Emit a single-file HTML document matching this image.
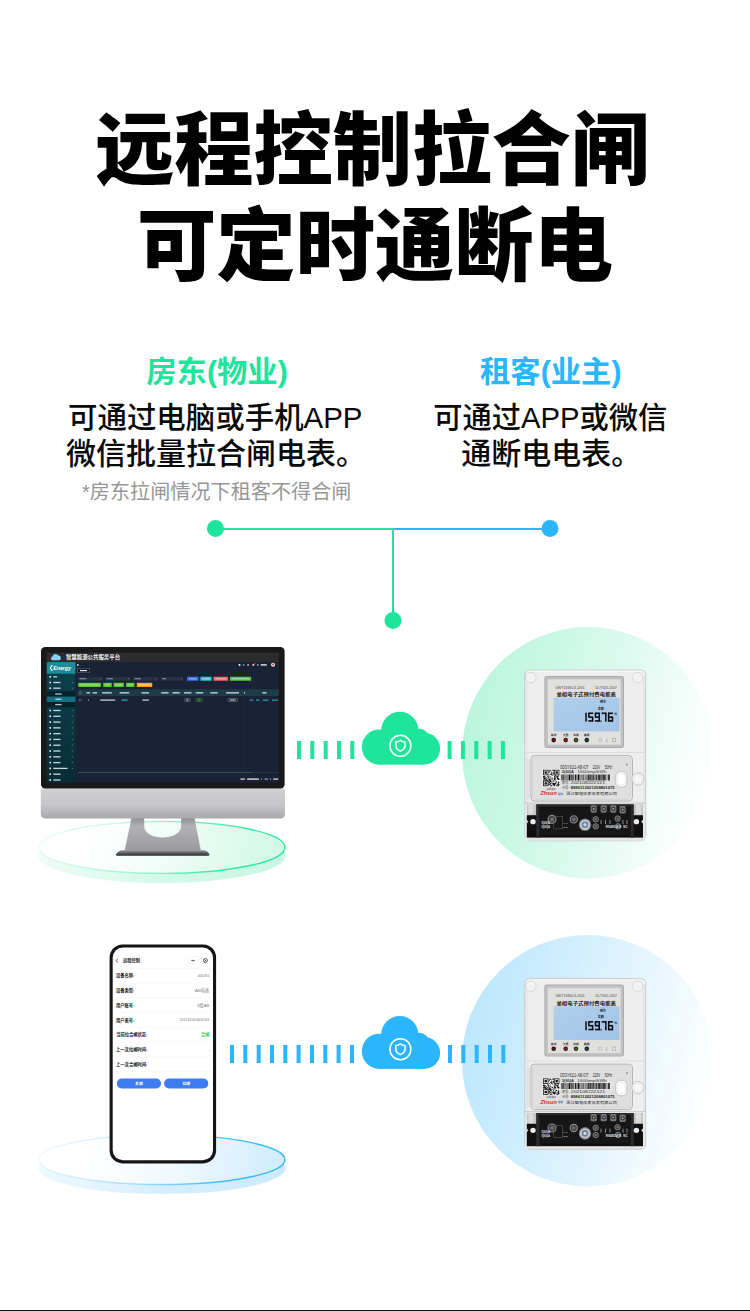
<!DOCTYPE html>
<html lang="zh-CN">
<head>
<meta charset="utf-8">
<title>远程控制拉合闸 可定时通断电</title>
<style>
html,body{margin:0;padding:0;background:#fff;}
body{width:750px;height:1311px;position:relative;overflow:hidden;font-family:"Liberation Sans",sans-serif;}
#art{position:absolute;left:0;top:0;width:750px;height:1311px;display:block;}
#art text{font-family:"Liberation Sans","Noto Sans CJK SC",sans-serif;}
.lbl{position:absolute;white-space:nowrap;color:transparent;overflow:hidden;font-family:"Liberation Sans",sans-serif;}
#foot{position:absolute;left:0;top:1310px;width:750px;height:1px;background:#121214;}
</style>
</head>
<body>
<svg id="art" width="750" height="1311" viewBox="0 0 750 1311">
<g id="conn">
<rect x="215" y="528" width="178" height="2" fill="#1ee59b"/>
<rect x="393" y="528" width="157" height="2" fill="#2bb5fd"/>
<rect x="392" y="528" width="2" height="92" fill="#1ee59b"/>
<circle cx="215.5" cy="528.4" r="8.5" fill="#1ee59b"/>
<circle cx="550" cy="528.4" r="8.5" fill="#2bb5fd"/>
<circle cx="393" cy="620.4" r="8.5" fill="#1ee59b"/>
</g>
<defs>
<linearGradient id="gcirc" gradientUnits="userSpaceOnUse" x1="464" y1="722" x2="712" y2="784">
<stop offset="0" stop-color="#bbf5df"/><stop offset="0.3" stop-color="#cbf8e6"/><stop offset="0.55" stop-color="#ddfaef"/><stop offset="0.8" stop-color="#f1fdf8"/><stop offset="1" stop-color="#ffffff"/></linearGradient>
<linearGradient id="bcirc" gradientUnits="userSpaceOnUse" x1="464" y1="1030" x2="712" y2="1092">
<stop offset="0" stop-color="#bde7fd"/><stop offset="0.3" stop-color="#ceedfe"/><stop offset="0.55" stop-color="#dff3fe"/><stop offset="0.8" stop-color="#f1faff"/><stop offset="1" stop-color="#ffffff"/></linearGradient>
<linearGradient id="lcdg" x1="0" y1="0" x2="1" y2="1"><stop offset="0" stop-color="#b0cfec"/><stop offset="1" stop-color="#a2c3e6"/></linearGradient>
</defs><circle cx="588" cy="752.85" r="125.85" fill="url(#gcirc)"/><circle cx="587.7" cy="1060.7" r="125.7" fill="url(#bcirc)"/><g id="meter"><rect x="524.8" y="670" width="120.9" height="170.8" rx="5" fill="#eeeeee" stroke="#c6c6c6" stroke-width="0.9"/><rect x="526.2" y="671.4" width="118.1" height="168" rx="4" fill="none" stroke="#f8f8f8" stroke-width="1.2"/><rect x="525.3" y="676" width="2" height="158" fill="#dcdcdc" opacity="0.6"/><rect x="643.2" y="676" width="2" height="158" fill="#dcdcdc" opacity="0.6"/><circle cx="530.9" cy="677.6" r="5.2" fill="#f3f3f3" stroke="#d2d2d2" stroke-width="0.8"/><circle cx="637.6" cy="677.6" r="5.2" fill="#f3f3f3" stroke="#d2d2d2" stroke-width="0.8"/><rect x="544.4" y="676" width="79.6" height="72" rx="2.4" fill="#a9a9a9"/><rect x="545.3" y="676.9" width="77.8" height="70.2" rx="1.8" fill="#c2c2c2"/><rect x="547.4" y="679" width="73.6" height="66" rx="1" fill="#e0e0df" stroke="#b3b3b3" stroke-width="0.5"/><text x="555.6" y="688.6" font-size="3.2" fill="#4c4c4c" textLength="29.2" lengthAdjust="spacingAndGlyphs">GB/T18460.3-2001</text><text x="595.4" y="688.6" font-size="3.2" fill="#4c4c4c" textLength="21.6" lengthAdjust="spacingAndGlyphs">DL/T645-2007</text><text x="556.4" y="696" font-size="4.9" font-weight="bold" fill="#1a1a1a" textLength="59.6" lengthAdjust="spacingAndGlyphs">单相电子式预付费电能表</text><rect x="553.6" y="697.6" width="65.9" height="33.8" fill="url(#lcdg)"/><text x="600" y="703.1" font-size="3.1" font-weight="bold" fill="#141826" textLength="6.2" lengthAdjust="spacingAndGlyphs">剩余</text><text x="597.7" y="709.5" font-size="3.1" font-weight="bold" fill="#141826" textLength="6.2" lengthAdjust="spacingAndGlyphs">金额</text><rect x="585.25" y="712.75" width="1.55" height="4.35" fill="#0b0b10"/><rect x="585.25" y="717.23" width="1.55" height="4.35" fill="#0b0b10"/><rect x="588.35" y="712.50" width="4.80" height="1.55" fill="#0b0b10"/><rect x="588.10" y="712.75" width="1.55" height="4.35" fill="#0b0b10"/><rect x="588.35" y="716.33" width="4.80" height="1.55" fill="#0b0b10"/><rect x="591.85" y="717.23" width="1.55" height="4.35" fill="#0b0b10"/><rect x="588.35" y="720.15" width="4.80" height="1.55" fill="#0b0b10"/><rect x="594.95" y="712.50" width="4.80" height="1.55" fill="#0b0b10"/><rect x="598.45" y="712.75" width="1.55" height="4.35" fill="#0b0b10"/><rect x="594.70" y="712.75" width="1.55" height="4.35" fill="#0b0b10"/><rect x="594.95" y="716.33" width="4.80" height="1.55" fill="#0b0b10"/><rect x="598.45" y="717.23" width="1.55" height="4.35" fill="#0b0b10"/><rect x="594.95" y="720.15" width="4.80" height="1.55" fill="#0b0b10"/><rect x="601.55" y="712.50" width="4.80" height="1.55" fill="#0b0b10"/><rect x="605.05" y="712.75" width="1.55" height="4.35" fill="#0b0b10"/><rect x="605.05" y="717.23" width="1.55" height="4.35" fill="#0b0b10"/><rect x="608.15" y="712.50" width="4.80" height="1.55" fill="#0b0b10"/><rect x="607.90" y="712.75" width="1.55" height="4.35" fill="#0b0b10"/><rect x="608.15" y="716.33" width="4.80" height="1.55" fill="#0b0b10"/><rect x="607.90" y="717.23" width="1.55" height="4.35" fill="#0b0b10"/><rect x="608.15" y="720.15" width="4.80" height="1.55" fill="#0b0b10"/><rect x="611.65" y="717.23" width="1.55" height="4.35" fill="#0b0b10"/><rect x="600.3" y="720.5" width="1.2" height="1.3" fill="#0b0b10"/><text x="614.3" y="715.3" font-size="2.9" font-weight="bold" fill="#141826">元</text><text x="551" y="735.95" font-size="2.7" font-weight="bold" fill="#222" textLength="5.3" lengthAdjust="spacingAndGlyphs">脉冲</text><text x="563" y="735.95" font-size="2.7" font-weight="bold" fill="#222" textLength="5.3" lengthAdjust="spacingAndGlyphs">欠费</text><text x="573.3" y="735.95" font-size="2.7" font-weight="bold" fill="#222" textLength="5.3" lengthAdjust="spacingAndGlyphs">拉闸</text><text x="584.1" y="735.95" font-size="2.7" font-weight="bold" fill="#222" textLength="5.3" lengthAdjust="spacingAndGlyphs">跳闸</text><circle cx="553.7" cy="740.1" r="2.3" fill="#33100e"/><circle cx="553.7" cy="740.1" r="1.2" fill="#5e211c"/><circle cx="565.7" cy="740.1" r="2.3" fill="#451311"/><circle cx="565.7" cy="740.1" r="1.2" fill="#8a2a24"/><circle cx="576.0" cy="740.1" r="2.3" fill="#2e2e10"/><circle cx="576.0" cy="740.1" r="1.2" fill="#5c5a24"/><circle cx="586.8" cy="740.1" r="2.3" fill="#11221a"/><circle cx="586.8" cy="740.1" r="1.2" fill="#23503a"/><circle cx="600.2" cy="740.1" r="1.7" fill="none" stroke="#9c9c9c" stroke-width="0.5"/><path d="M606.8 738.3v3.4m-1-1l1 1.2l1-1.2" fill="none" stroke="#9c9c9c" stroke-width="0.5"/><rect x="612.4" y="738.4" width="3.4" height="3.4" fill="none" stroke="#9c9c9c" stroke-width="0.5"/><path d="M524.8 752.5H645.7" stroke="#d6d6d6" stroke-width="0.7"/><rect x="531" y="755.6" width="101.4" height="45.4" rx="3.6" fill="#f4f4f4" stroke="#a6a6a6" stroke-width="0.9"/><rect x="532.6" y="757.2" width="98.2" height="42.2" rx="2.6" fill="#dfdfdf" stroke="#c4c4c4" stroke-width="0.6"/><rect x="526.6" y="759" width="3.4" height="40" rx="1" fill="#e2e2e2"/><circle cx="638" cy="779" r="6.2" fill="#f2f2f2" stroke="#bcbcbc" stroke-width="0.8"/><circle cx="638" cy="779" r="4.2" fill="#f7f7f7" stroke="#dedede" stroke-width="0.5"/><rect x="626.5" y="763.5" width="0.9" height="2" fill="#555"/><rect x="615.7" y="771.6" width="11.2" height="15.6" rx="4.6" fill="#fafafa" stroke="#b6b6b6" stroke-width="0.8"/><rect x="617.6" y="773.8" width="7.4" height="11.2" rx="3.2" fill="#ffffff" stroke="#e0e0e0" stroke-width="0.5"/><text x="560.2" y="768.6" font-size="4.8" fill="#2a2a2a" textLength="28.3" lengthAdjust="spacingAndGlyphs">DDSY6111-AB-IOT</text><text x="592.7" y="768.6" font-size="4.8" fill="#2a2a2a" textLength="7.5" lengthAdjust="spacingAndGlyphs">220V</text><text x="604.7" y="768.6" font-size="4.8" fill="#2a2a2a" textLength="7.5" lengthAdjust="spacingAndGlyphs">50Hz</text><text x="561.9" y="773.4" font-size="3.4" font-weight="bold" fill="#333" textLength="12" lengthAdjust="spacingAndGlyphs">5(60)A</text><text x="577.3" y="773.4" font-size="3.5" fill="#3a3a3a" textLength="29.4" lengthAdjust="spacingAndGlyphs">1600imp/kWh</text><rect x="561" y="774.3" width="50.2" height="6.3" fill="#ededed"/><path d="M561.40 774.5h0.8v5.9h-0.8zM562.60 774.5h1.1v5.9h-1.1zM564.40 774.5h0.45v5.9h-0.45zM565.25 774.5h0.45v5.9h-0.45zM566.10 774.5h0.45v5.9h-0.45zM567.25 774.5h0.45v5.9h-0.45zM568.10 774.5h0.45v5.9h-0.45zM568.95 774.5h1.1v5.9h-1.1zM570.45 774.5h0.45v5.9h-0.45zM571.30 774.5h1.1v5.9h-1.1zM572.80 774.5h0.45v5.9h-0.45zM573.65 774.5h0.45v5.9h-0.45zM574.80 774.5h1.1v5.9h-1.1zM576.30 774.5h0.45v5.9h-0.45zM577.15 774.5h0.45v5.9h-0.45zM578.00 774.5h1.1v5.9h-1.1zM579.50 774.5h0.45v5.9h-0.45zM580.65 774.5h0.8v5.9h-0.8zM582.15 774.5h0.45v5.9h-0.45zM583.00 774.5h0.45v5.9h-0.45zM583.85 774.5h0.45v5.9h-0.45zM585.00 774.5h0.45v5.9h-0.45zM586.15 774.5h0.45v5.9h-0.45zM587.30 774.5h0.45v5.9h-0.45zM588.15 774.5h1.1v5.9h-1.1zM589.65 774.5h1.1v5.9h-1.1zM591.45 774.5h1.1v5.9h-1.1zM592.95 774.5h0.8v5.9h-0.8zM594.15 774.5h0.45v5.9h-0.45zM595.30 774.5h0.45v5.9h-0.45zM596.15 774.5h0.8v5.9h-0.8zM597.65 774.5h1.1v5.9h-1.1zM599.15 774.5h1.1v5.9h-1.1zM600.65 774.5h0.45v5.9h-0.45zM601.50 774.5h1.1v5.9h-1.1zM603.00 774.5h0.8v5.9h-0.8zM604.20 774.5h1.1v5.9h-1.1zM605.70 774.5h0.45v5.9h-0.45zM606.85 774.5h0.45v5.9h-0.45zM608.00 774.5h0.8v5.9h-0.8zM609.20 774.5h0.8v5.9h-0.8z" fill="#111"/><text x="561.9" y="784.2" font-size="3.1" fill="#333" textLength="7.2" lengthAdjust="spacingAndGlyphs">表号:</text><text x="570.8" y="784.3" font-size="3.5" fill="#2a2a2a" textLength="34.2" lengthAdjust="spacingAndGlyphs">202108222121</text><text x="561.9" y="789.1" font-size="3.1" fill="#333" textLength="7.2" lengthAdjust="spacingAndGlyphs">卡号:</text><text x="570.7" y="789.2" font-size="3.4" font-weight="bold" fill="#222" textLength="44" lengthAdjust="spacingAndGlyphs">8986112021208801075</text><text x="540.5" y="795.4" font-size="4.8" font-weight="bold" font-style="italic" fill="#d8261c" textLength="16.2" lengthAdjust="spacingAndGlyphs">Zhsun</text><text x="558" y="794.6" font-size="2.6" font-weight="bold" fill="#2a77c9" textLength="5.1" lengthAdjust="spacingAndGlyphs">智电</text><text x="566.2" y="795.2" font-size="3.6" fill="#161616" textLength="50.8" lengthAdjust="spacingAndGlyphs">浙江智电仪表仪表有限公司</text><rect x="542.5" y="769.3" width="17.4" height="17.4" fill="#f4f4f4"/><path d="M548.47 769.80h0.78v0.78h-0.78zM550.03 769.80h0.78v0.78h-0.78zM552.37 769.80h0.78v0.78h-0.78zM553.15 769.80h0.78v0.78h-0.78zM549.25 770.58h0.78v0.78h-0.78zM550.03 770.58h0.78v0.78h-0.78zM551.59 770.58h0.78v0.78h-0.78zM553.15 770.58h0.78v0.78h-0.78zM549.25 771.36h0.78v0.78h-0.78zM548.47 772.14h0.78v0.78h-0.78zM550.81 772.14h0.78v0.78h-0.78zM551.59 772.14h0.78v0.78h-0.78zM553.15 772.14h0.78v0.78h-0.78zM551.59 772.92h0.78v0.78h-0.78zM553.15 772.92h0.78v0.78h-0.78zM550.03 773.70h0.78v0.78h-0.78zM550.81 773.70h0.78v0.78h-0.78zM551.59 773.70h0.78v0.78h-0.78zM553.15 773.70h0.78v0.78h-0.78zM549.25 774.49h0.78v0.78h-0.78zM550.81 774.49h0.78v0.78h-0.78zM551.59 774.49h0.78v0.78h-0.78zM547.69 775.27h0.78v0.78h-0.78zM552.37 775.27h0.78v0.78h-0.78zM554.71 775.27h0.78v0.78h-0.78zM555.50 775.27h0.78v0.78h-0.78zM557.84 775.27h0.78v0.78h-0.78zM543.00 776.05h0.78v0.78h-0.78zM543.78 776.05h0.78v0.78h-0.78zM544.56 776.05h0.78v0.78h-0.78zM546.90 776.05h0.78v0.78h-0.78zM548.47 776.05h0.78v0.78h-0.78zM550.03 776.05h0.78v0.78h-0.78zM553.93 776.05h0.78v0.78h-0.78zM554.71 776.05h0.78v0.78h-0.78zM556.28 776.05h0.78v0.78h-0.78zM557.06 776.05h0.78v0.78h-0.78zM557.84 776.05h0.78v0.78h-0.78zM543.00 776.83h0.78v0.78h-0.78zM543.78 776.83h0.78v0.78h-0.78zM545.34 776.83h0.78v0.78h-0.78zM547.69 776.83h0.78v0.78h-0.78zM548.47 776.83h0.78v0.78h-0.78zM554.71 776.83h0.78v0.78h-0.78zM556.28 776.83h0.78v0.78h-0.78zM557.06 776.83h0.78v0.78h-0.78zM543.78 777.61h0.78v0.78h-0.78zM544.56 777.61h0.78v0.78h-0.78zM546.12 777.61h0.78v0.78h-0.78zM548.47 777.61h0.78v0.78h-0.78zM550.03 777.61h0.78v0.78h-0.78zM551.59 777.61h0.78v0.78h-0.78zM553.93 777.61h0.78v0.78h-0.78zM554.71 777.61h0.78v0.78h-0.78zM557.06 777.61h0.78v0.78h-0.78zM557.84 777.61h0.78v0.78h-0.78zM543.00 778.39h0.78v0.78h-0.78zM543.78 778.39h0.78v0.78h-0.78zM544.56 778.39h0.78v0.78h-0.78zM545.34 778.39h0.78v0.78h-0.78zM546.90 778.39h0.78v0.78h-0.78zM547.69 778.39h0.78v0.78h-0.78zM549.25 778.39h0.78v0.78h-0.78zM551.59 778.39h0.78v0.78h-0.78zM552.37 778.39h0.78v0.78h-0.78zM553.93 778.39h0.78v0.78h-0.78zM554.71 778.39h0.78v0.78h-0.78zM555.50 778.39h0.78v0.78h-0.78zM557.06 778.39h0.78v0.78h-0.78zM557.84 778.39h0.78v0.78h-0.78zM558.62 778.39h0.78v0.78h-0.78zM543.78 779.17h0.78v0.78h-0.78zM545.34 779.17h0.78v0.78h-0.78zM546.12 779.17h0.78v0.78h-0.78zM548.47 779.17h0.78v0.78h-0.78zM549.25 779.17h0.78v0.78h-0.78zM550.03 779.17h0.78v0.78h-0.78zM551.59 779.17h0.78v0.78h-0.78zM553.93 779.17h0.78v0.78h-0.78zM554.71 779.17h0.78v0.78h-0.78zM557.84 779.17h0.78v0.78h-0.78zM558.62 779.17h0.78v0.78h-0.78zM543.00 779.95h0.78v0.78h-0.78zM544.56 779.95h0.78v0.78h-0.78zM545.34 779.95h0.78v0.78h-0.78zM546.12 779.95h0.78v0.78h-0.78zM546.90 779.95h0.78v0.78h-0.78zM547.69 779.95h0.78v0.78h-0.78zM549.25 779.95h0.78v0.78h-0.78zM550.03 779.95h0.78v0.78h-0.78zM553.15 779.95h0.78v0.78h-0.78zM555.50 779.95h0.78v0.78h-0.78zM548.47 780.73h0.78v0.78h-0.78zM549.25 780.73h0.78v0.78h-0.78zM550.03 780.73h0.78v0.78h-0.78zM550.81 780.73h0.78v0.78h-0.78zM552.37 780.73h0.78v0.78h-0.78zM553.93 780.73h0.78v0.78h-0.78zM548.47 781.51h0.78v0.78h-0.78zM550.03 781.51h0.78v0.78h-0.78zM550.81 781.51h0.78v0.78h-0.78zM553.15 781.51h0.78v0.78h-0.78zM555.50 781.51h0.78v0.78h-0.78zM556.28 781.51h0.78v0.78h-0.78zM557.84 781.51h0.78v0.78h-0.78zM548.47 782.30h0.78v0.78h-0.78zM549.25 782.30h0.78v0.78h-0.78zM551.59 782.30h0.78v0.78h-0.78zM555.50 782.30h0.78v0.78h-0.78zM557.84 782.30h0.78v0.78h-0.78zM558.62 782.30h0.78v0.78h-0.78zM548.47 783.08h0.78v0.78h-0.78zM550.03 783.08h0.78v0.78h-0.78zM550.81 783.08h0.78v0.78h-0.78zM552.37 783.08h0.78v0.78h-0.78zM553.15 783.08h0.78v0.78h-0.78zM553.93 783.08h0.78v0.78h-0.78zM554.71 783.08h0.78v0.78h-0.78zM555.50 783.08h0.78v0.78h-0.78zM557.84 783.08h0.78v0.78h-0.78zM548.47 783.86h0.78v0.78h-0.78zM549.25 783.86h0.78v0.78h-0.78zM550.03 783.86h0.78v0.78h-0.78zM552.37 783.86h0.78v0.78h-0.78zM553.15 783.86h0.78v0.78h-0.78zM553.93 783.86h0.78v0.78h-0.78zM554.71 783.86h0.78v0.78h-0.78zM557.06 783.86h0.78v0.78h-0.78zM557.84 783.86h0.78v0.78h-0.78zM558.62 783.86h0.78v0.78h-0.78zM548.47 784.64h0.78v0.78h-0.78zM550.81 784.64h0.78v0.78h-0.78zM553.15 784.64h0.78v0.78h-0.78zM553.93 784.64h0.78v0.78h-0.78zM554.71 784.64h0.78v0.78h-0.78zM556.28 784.64h0.78v0.78h-0.78zM557.84 784.64h0.78v0.78h-0.78zM558.62 784.64h0.78v0.78h-0.78zM550.03 785.42h0.78v0.78h-0.78zM550.81 785.42h0.78v0.78h-0.78zM551.59 785.42h0.78v0.78h-0.78zM553.93 785.42h0.78v0.78h-0.78zM556.28 785.42h0.78v0.78h-0.78zM557.06 785.42h0.78v0.78h-0.78zM557.84 785.42h0.78v0.78h-0.78z" fill="#111"/><rect x="543.39" y="770.19" width="4.69" height="4.69" fill="none" stroke="#111" stroke-width="0.78"/><rect x="544.56" y="771.36" width="2.34" height="2.34" fill="#111"/><rect x="554.32" y="770.19" width="4.69" height="4.69" fill="none" stroke="#111" stroke-width="0.78"/><rect x="555.50" y="771.36" width="2.34" height="2.34" fill="#111"/><rect x="543.39" y="781.12" width="4.69" height="4.69" fill="none" stroke="#111" stroke-width="0.78"/><rect x="544.56" y="782.30" width="2.34" height="2.34" fill="#111"/><text x="546.6" y="789.6" font-size="2.25" fill="#333" textLength="9.1" lengthAdjust="spacingAndGlyphs">扫码充值</text><rect x="525.4" y="803.2" width="119.7" height="37" fill="#e9e9e9"/><path d="M524.8 803H645.7" stroke="#bfbfbf" stroke-width="0.8"/><rect x="527" y="804.4" width="9.4" height="11" fill="#c6c6c6"/><rect x="528.4" y="804.4" width="5" height="10" fill="#dcdcdc"/><rect x="633.6" y="804.4" width="9.4" height="11" fill="#c6c6c6"/><rect x="636" y="804.4" width="5" height="10" fill="#dcdcdc"/><rect x="536.4" y="804.4" width="97.2" height="33.2" fill="#0f0f10"/><rect x="536.4" y="804.4" width="97.2" height="2.2" fill="#2c2c2e"/><rect x="539.4" y="807.5" width="91.4" height="27.5" fill="#161617"/><rect x="536.4" y="806.6" width="3" height="31" fill="#2b2b2d"/><rect x="630.8" y="806.6" width="2.8" height="31" fill="#2b2b2d"/><rect x="526.8" y="815.2" width="9.8" height="22.4" fill="#101011"/><rect x="633.4" y="815.2" width="9.6" height="22.4" fill="#101011"/><ellipse cx="533" cy="821.7" rx="2.7" ry="2.6" fill="#ededed"/><ellipse cx="636.4" cy="821.7" rx="2.7" ry="2.6" fill="#ededed"/><path d="M643 819.8L641.2 821.7L643 823.6Z" fill="#e6e6e6"/><path d="M526.8 819.8L528.4 821.7L526.8 823.6Z" fill="#e6e6e6"/><circle cx="585" cy="824.8" r="6.3" fill="#707276"/><circle cx="585" cy="824.8" r="5.2" fill="#c6c9ce"/><circle cx="585" cy="824.8" r="3.3" fill="#6f7f96"/><circle cx="585" cy="824.8" r="1.7" fill="#c9d6e6"/><circle cx="552" cy="819.4" r="4" fill="#3a3a3c" stroke="#8d8e91" stroke-width="1.1"/><circle cx="552" cy="819.4" r="2.00" fill="#6e6f73"/><circle cx="573.8" cy="819.4" r="3.6" fill="#3a3a3c" stroke="#8d8e91" stroke-width="1.1"/><circle cx="573.8" cy="819.4" r="1.80" fill="#6e6f73"/><rect x="553.8" y="816.7" width="8.8" height="12.2" fill="none" stroke="#6a6a6c" stroke-width="0.5"/><rect x="590.6" y="805.3" width="6.2" height="7.4" rx="1.6" fill="#77787b"/><circle cx="593.7" cy="808.9" r="2.1" fill="#2a2a2c"/><circle cx="593.7" cy="808.9" r="1.1" fill="#9a9b9e"/><rect x="600.6" y="805.3" width="6.2" height="7.4" rx="1.6" fill="#77787b"/><circle cx="603.7" cy="808.9" r="2.1" fill="#2a2a2c"/><circle cx="603.7" cy="808.9" r="1.1" fill="#9a9b9e"/><rect x="610.1999999999999" y="805.3" width="6.2" height="7.4" rx="1.6" fill="#77787b"/><circle cx="613.3" cy="808.9" r="2.1" fill="#2a2a2c"/><circle cx="613.3" cy="808.9" r="1.1" fill="#9a9b9e"/><rect x="619.5" y="806.1" width="6.2" height="7.4" rx="1.6" fill="#77787b"/><circle cx="622.6" cy="809.7" r="2.1" fill="#2a2a2c"/><circle cx="622.6" cy="809.7" r="1.1" fill="#9a9b9e"/><circle cx="595.7" cy="819.3" r="2.7" fill="#3a3a3c" stroke="#8a8b8e" stroke-width="0.9"/><circle cx="595.7" cy="819.3" r="1.1" fill="#77787c"/><circle cx="595.7" cy="826.4" r="2.7" fill="#3a3a3c" stroke="#8a8b8e" stroke-width="0.9"/><circle cx="595.7" cy="826.4" r="1.1" fill="#77787c"/><circle cx="617.6" cy="818.6" r="2.7" fill="#3a3a3c" stroke="#8a8b8e" stroke-width="0.9"/><circle cx="617.6" cy="818.6" r="1.1" fill="#77787c"/><circle cx="618" cy="826.4" r="2.7" fill="#3a3a3c" stroke="#8a8b8e" stroke-width="0.9"/><circle cx="618" cy="826.4" r="1.1" fill="#77787c"/><text x="541.6" y="824.4" font-size="2.7" font-weight="bold" fill="#e2e2e2" textLength="8.4" lengthAdjust="spacingAndGlyphs">5(60)A</text><text x="541.6" y="828.2" font-size="2.7" font-weight="bold" fill="#e2e2e2" textLength="8.4" lengthAdjust="spacingAndGlyphs">5(60)A</text><text x="563.6" y="824.4" font-size="2.5" font-weight="bold" fill="#dcdcdc">L</text><text x="565.9" y="824.4" font-size="2.5" font-weight="bold" fill="#dcdcdc">1</text><text x="563.6" y="828.2" font-size="2.5" font-weight="bold" fill="#dcdcdc">N</text><text x="566.1" y="828.2" font-size="2.5" font-weight="bold" fill="#dcdcdc">3</text><path d="M601 820v4M605.5 820v4M610 820v4M623 820v4M627 820v4" stroke="#bdbdbd" stroke-width="0.7"/><text x="605.8" y="828" font-size="2.6" font-weight="bold" fill="#e4e4e4" textLength="9.3" lengthAdjust="spacingAndGlyphs">RS485</text><text x="616.05" y="828" font-size="2.6" font-weight="bold" fill="#e4e4e4">A</text><text x="619.3" y="828" font-size="2.6" font-weight="bold" fill="#e4e4e4">B</text><text x="623.3" y="828" font-size="2.6" font-weight="bold" fill="#e4e4e4" textLength="4.2" lengthAdjust="spacingAndGlyphs">NC</text><rect x="527" y="838.8" width="116.6" height="1.6" rx="0.8" fill="#e2e2e2"/></g><use href="#meter" transform="translate(0,308.6)"/>
<g id="clouds"><rect x="297.0" y="741" width="4" height="18" fill="#1ee59b"/><rect x="310.3" y="741" width="4" height="18" fill="#1ee59b"/><rect x="323.7" y="741" width="4" height="18" fill="#1ee59b"/><rect x="337.0" y="741" width="4" height="18" fill="#1ee59b"/><rect x="350.3" y="741" width="4" height="18" fill="#1ee59b"/><rect x="447.6" y="741" width="4" height="18" fill="#1ee59b"/><rect x="460.9" y="741" width="4" height="18" fill="#1ee59b"/><rect x="474.3" y="741" width="4" height="18" fill="#1ee59b"/><rect x="487.6" y="741" width="4" height="18" fill="#1ee59b"/><rect x="500.9" y="741" width="4" height="18" fill="#1ee59b"/><rect x="230.0" y="1045" width="4" height="18" fill="#2bb5fd"/><rect x="243.3" y="1045" width="4" height="18" fill="#2bb5fd"/><rect x="256.7" y="1045" width="4" height="18" fill="#2bb5fd"/><rect x="270.0" y="1045" width="4" height="18" fill="#2bb5fd"/><rect x="283.3" y="1045" width="4" height="18" fill="#2bb5fd"/><rect x="296.6" y="1045" width="4" height="18" fill="#2bb5fd"/><rect x="310.0" y="1045" width="4" height="18" fill="#2bb5fd"/><rect x="323.3" y="1045" width="4" height="18" fill="#2bb5fd"/><rect x="336.6" y="1045" width="4" height="18" fill="#2bb5fd"/><rect x="350.0" y="1045" width="4" height="18" fill="#2bb5fd"/><rect x="448.0" y="1045" width="4" height="18" fill="#2bb5fd"/><rect x="461.3" y="1045" width="4" height="18" fill="#2bb5fd"/><rect x="474.7" y="1045" width="4" height="18" fill="#2bb5fd"/><rect x="488.0" y="1045" width="4" height="18" fill="#2bb5fd"/><rect x="501.3" y="1045" width="4" height="18" fill="#2bb5fd"/><g transform="translate(0,0)"><g fill="#1ee59b"><circle cx="399.8" cy="730.4" r="18.6"/><circle cx="379.4" cy="747.1" r="17.6"/><circle cx="424.2" cy="748.7" r="15.9"/><circle cx="419.5" cy="737.5" r="9"/><rect x="379.4" y="738" width="44.8" height="26.7"/></g><g transform="translate(0,0)"><circle cx="400.4" cy="745.8" r="10.5" fill="none" stroke="#fff" stroke-width="1.5"/><path d="M400.4 740.3 C398.9 741.6 397.4 742 395.8 742 L395.8 745.6 C395.8 748.2 397.6 750 400.4 751.2 C403.2 750 405 748.2 405 745.6 L405 742 C403.4 742 401.9 741.6 400.4 740.3 Z" fill="none" stroke="#fff" stroke-width="1.5" stroke-linejoin="round"/></g></g><g transform="translate(0,304.2)"><g fill="#2bb5fd"><circle cx="399.8" cy="730.4" r="18.6"/><circle cx="379.4" cy="747.1" r="17.6"/><circle cx="424.2" cy="748.7" r="15.9"/><circle cx="419.5" cy="737.5" r="9"/><rect x="379.4" y="738" width="44.8" height="26.7"/></g><g transform="translate(0,-0.8)"><circle cx="400.4" cy="745.8" r="10.5" fill="none" stroke="#fff" stroke-width="1.5"/><path d="M400.4 740.3 C398.9 741.6 397.4 742 395.8 742 L395.8 745.6 C395.8 748.2 397.6 750 400.4 751.2 C403.2 750 405 748.2 405 745.6 L405 742 C403.4 742 401.9 741.6 400.4 740.3 Z" fill="none" stroke="#fff" stroke-width="1.5" stroke-linejoin="round"/></g></g></g>
<g id="monitor"><defs>
<linearGradient id="pgs" gradientUnits="userSpaceOnUse" x1="38.5" y1="820.8" x2="285.5" y2="863.36">
<stop offset="0" stop-color="#1ee59b" stop-opacity="0.06"/><stop offset="0.4" stop-color="#1ee59b" stop-opacity="0.32"/><stop offset="0.75" stop-color="#1ee59b" stop-opacity="0.85"/><stop offset="1" stop-color="#1ee59b" stop-opacity="1"/></linearGradient>
<linearGradient id="pgf" gradientUnits="userSpaceOnUse" x1="87.9" y1="820.8" x2="285.5" y2="874.0">
<stop offset="0" stop-color="#ffffff"/><stop offset="0.45" stop-color="#eefcf6"/><stop offset="1" stop-color="#cdf8e6"/></linearGradient>
<linearGradient id="pgl" gradientUnits="userSpaceOnUse" x1="38.5" y1="0" x2="285.5" y2="0">
<stop offset="0" stop-color="#c9f7e3" stop-opacity="0.3"/><stop offset="0.5" stop-color="#c9f7e3" stop-opacity="0.8"/><stop offset="1" stop-color="#c9f7e3" stop-opacity="1"/></linearGradient>
</defs><ellipse cx="162" cy="855.9" rx="123.5" ry="27.1" fill="url(#pgl)"/><ellipse cx="162" cy="847.4" rx="122.9" ry="26.0" fill="url(#pgf)" stroke="url(#pgs)" stroke-width="1.4"/><defs>
<linearGradient id="chin" x1="0" y1="0" x2="0" y2="1"><stop offset="0" stop-color="#e6e6e8"/><stop offset="0.08" stop-color="#cfcfd2"/><stop offset="0.55" stop-color="#c6c6c9"/><stop offset="1" stop-color="#a9a9ad"/></linearGradient>
<linearGradient id="neck" x1="0" y1="0" x2="0" y2="1"><stop offset="0" stop-color="#8f8f93"/><stop offset="0.25" stop-color="#b2b2b6"/><stop offset="1" stop-color="#9b9b9f"/></linearGradient>
<linearGradient id="foot" x1="0" y1="0" x2="0" y2="1"><stop offset="0" stop-color="#98989c"/><stop offset="0.5" stop-color="#5c5c60"/><stop offset="1" stop-color="#29292b"/></linearGradient>
<linearGradient id="side" x1="0" y1="0" x2="0" y2="1"><stop offset="0" stop-color="#0d414e"/><stop offset="1" stop-color="#082c36"/></linearGradient>
</defs><path d="M131.5 818H144.2V826C144.2 833 152 837.4 162.6 837.4C173.2 837.4 181.1 833 181.1 826V818H194.5L200.9 850.8H124.6Z" fill="url(#neck)"/><path d="M121 850.3H204.4Q208.4 851.6 209.3 854.2Q209.6 855.8 207.8 855.8H117.4Q115.6 855.8 116 854.2Q117 851.6 121 850.3Z" fill="url(#foot)"/><path d="M40.8 788H285V813.5Q285 818.6 280 818.6H45.8Q40.8 818.6 40.8 813.5Z" fill="url(#chin)"/><rect x="41.00" y="647.00" width="243.60" height="141.60" rx="4.2" fill="#19191a"/><rect x="46.80" y="652.70" width="232.00" height="129.70" fill="#1a2335"/><rect x="46.80" y="652.70" width="232.00" height="9.40" fill="#2c2c2e"/><path d="M52.3 660.2a1.9 1.9 0 0 1 0.3-3.7a3 3 0 0 1 5.6-0.9a2.4 2.4 0 0 1 1.2 4.6z" fill="#7fd5f7"/><text x="65.9" y="659.4" font-size="5.3" font-weight="bold" fill="#f4f4f4" textLength="54.2" lengthAdjust="spacingAndGlyphs">智慧能源公共服务平台</text><rect x="46.80" y="662.10" width="28.60" height="120.30" fill="url(#side)"/><rect x="46.80" y="662.10" width="28.60" height="11.60" fill="#1b8c9a"/><path d="M52.4 665.2L50.2 668L52.4 670.8" fill="none" stroke="#fff" stroke-width="1.1"/><text x="53.2" y="669.9" font-size="5.2" font-weight="bold" font-style="italic" fill="#fff" textLength="17.8" lengthAdjust="spacingAndGlyphs">Energy</text><rect x="49.40" y="676.00" width="1.60" height="1.60" fill="#e8f3f5"/><rect x="53.30" y="676.15" width="3.80" height="1.30" fill="#dfeaed" opacity="0.9"/><rect x="49.40" y="681.70" width="1.60" height="1.60" fill="#e8f3f5"/><rect x="53.30" y="681.85" width="7.20" height="1.30" fill="#dfeaed" opacity="0.9"/><rect x="71.80" y="682.10" width="1.10" height="0.80" fill="#6f9aa3"/><rect x="49.40" y="687.40" width="1.60" height="1.60" fill="#e8f3f5"/><rect x="53.30" y="687.55" width="7.20" height="1.30" fill="#dfeaed" opacity="0.9"/><rect x="71.80" y="687.80" width="1.10" height="0.80" fill="#6f9aa3"/><rect x="46.80" y="691.20" width="28.60" height="16.20" fill="#06232c"/><rect x="46.80" y="696.60" width="28.60" height="5.40" fill="#14707e"/><rect x="55.20" y="693.35" width="6.40" height="1.30" fill="#dfeaed" opacity="0.8"/><rect x="55.20" y="698.65" width="6.40" height="1.30" fill="#dfeaed" opacity="0.8"/><rect x="55.20" y="703.95" width="6.40" height="1.30" fill="#dfeaed" opacity="0.8"/><rect x="49.40" y="709.70" width="1.60" height="1.60" fill="#e8f3f5"/><rect x="53.30" y="709.85" width="7.20" height="1.30" fill="#dfeaed" opacity="0.9"/><rect x="71.80" y="710.10" width="1.10" height="0.80" fill="#6f9aa3"/><rect x="49.40" y="715.49" width="1.60" height="1.60" fill="#e8f3f5"/><rect x="53.30" y="715.64" width="7.20" height="1.30" fill="#dfeaed" opacity="0.9"/><rect x="71.80" y="715.89" width="1.10" height="0.80" fill="#6f9aa3"/><rect x="49.40" y="721.28" width="1.60" height="1.60" fill="#e8f3f5"/><rect x="53.30" y="721.43" width="7.20" height="1.30" fill="#dfeaed" opacity="0.9"/><rect x="71.80" y="721.68" width="1.10" height="0.80" fill="#6f9aa3"/><rect x="49.40" y="727.07" width="1.60" height="1.60" fill="#e8f3f5"/><rect x="53.30" y="727.22" width="7.20" height="1.30" fill="#dfeaed" opacity="0.9"/><rect x="71.80" y="727.47" width="1.10" height="0.80" fill="#6f9aa3"/><rect x="49.40" y="732.86" width="1.60" height="1.60" fill="#e8f3f5"/><rect x="53.30" y="733.01" width="7.20" height="1.30" fill="#dfeaed" opacity="0.9"/><rect x="71.80" y="733.26" width="1.10" height="0.80" fill="#6f9aa3"/><rect x="49.40" y="738.65" width="1.60" height="1.60" fill="#e8f3f5"/><rect x="53.30" y="738.80" width="7.20" height="1.30" fill="#dfeaed" opacity="0.9"/><rect x="71.80" y="739.05" width="1.10" height="0.80" fill="#6f9aa3"/><rect x="49.40" y="744.44" width="1.60" height="1.60" fill="#e8f3f5"/><rect x="53.30" y="744.59" width="7.20" height="1.30" fill="#dfeaed" opacity="0.9"/><rect x="71.80" y="744.84" width="1.10" height="0.80" fill="#6f9aa3"/><rect x="49.40" y="750.23" width="1.60" height="1.60" fill="#e8f3f5"/><rect x="53.30" y="750.38" width="7.20" height="1.30" fill="#dfeaed" opacity="0.9"/><rect x="71.80" y="750.63" width="1.10" height="0.80" fill="#6f9aa3"/><rect x="49.40" y="756.02" width="1.60" height="1.60" fill="#e8f3f5"/><rect x="53.30" y="756.17" width="7.20" height="1.30" fill="#dfeaed" opacity="0.9"/><rect x="71.80" y="756.42" width="1.10" height="0.80" fill="#6f9aa3"/><rect x="49.40" y="761.81" width="1.60" height="1.60" fill="#e8f3f5"/><rect x="53.30" y="761.96" width="7.20" height="1.30" fill="#dfeaed" opacity="0.9"/><rect x="71.80" y="762.21" width="1.10" height="0.80" fill="#6f9aa3"/><rect x="49.40" y="767.60" width="1.60" height="1.60" fill="#e8f3f5"/><rect x="53.30" y="767.75" width="14.20" height="1.30" fill="#dfeaed" opacity="0.9"/><rect x="71.80" y="768.00" width="1.10" height="0.80" fill="#6f9aa3"/><rect x="49.40" y="773.39" width="1.60" height="1.60" fill="#e8f3f5"/><rect x="53.30" y="773.54" width="7.20" height="1.30" fill="#dfeaed" opacity="0.9"/><rect x="49.40" y="779.18" width="1.60" height="1.60" fill="#e8f3f5"/><rect x="53.30" y="779.33" width="7.20" height="1.30" fill="#dfeaed" opacity="0.9"/><rect x="77.00" y="664.20" width="1.60" height="1.60" fill="#e8e8e8"/><rect x="77.40" y="668.60" width="12.40" height="4.00" fill="#111827" stroke="#7b8596" stroke-width="0.4"/><rect x="80.00" y="670.00" width="7.00" height="1.20" fill="#e6e6e6"/><rect x="238.60" y="664.00" width="1.80" height="1.80" rx="0.6" fill="#fff"/><rect x="242.80" y="664.00" width="1.60" height="1.80" rx="0.6" fill="#8d95a3"/><rect x="247.20" y="664.00" width="1.80" height="1.80" rx="0.6" fill="#aeb4bf"/><rect x="252.40" y="664.00" width="1.80" height="1.80" rx="0.6" fill="#e8e8e8"/><rect x="257.00" y="664.00" width="1.60" height="1.80" rx="0.6" fill="#9aa0ab"/><rect x="260.60" y="664.00" width="6.20" height="1.80" rx="0.6" fill="#b9bec8"/><circle cx="254.6" cy="663.8" r="0.9" fill="#e0322e"/><circle cx="273" cy="664.8" r="2" fill="#f2f2f2"/><circle cx="273" cy="664.6" r="1" fill="#c0392b"/><rect x="78.20" y="676.90" width="24.20" height="3.80" rx="0.5" fill="#273044"/><rect x="79.60" y="678.20" width="6.50" height="1.10" fill="#8a93a3"/><rect x="100.00" y="678.40" width="1.00" height="0.80" fill="#70798a"/><rect x="105.00" y="676.90" width="25.40" height="3.80" rx="0.5" fill="#273044"/><rect x="106.40" y="678.20" width="6.50" height="1.10" fill="#8a93a3"/><rect x="128.00" y="678.40" width="1.00" height="0.80" fill="#70798a"/><rect x="133.00" y="676.90" width="25.00" height="3.80" rx="0.5" fill="#273044"/><rect x="134.40" y="678.20" width="6.50" height="1.10" fill="#8a93a3"/><rect x="155.60" y="678.40" width="1.00" height="0.80" fill="#70798a"/><rect x="160.60" y="676.90" width="22.80" height="3.80" rx="0.5" fill="#273044"/><rect x="162.00" y="678.20" width="4.40" height="1.10" fill="#8a93a3"/><rect x="181.00" y="678.40" width="1.00" height="0.80" fill="#70798a"/><rect x="187.00" y="676.80" width="11.50" height="4.00" rx="0.6" fill="#3c6ff0"/><rect x="189.00" y="678.35" width="7.50" height="1.00" fill="#ffffff" opacity="0.55"/><rect x="200.40" y="676.80" width="11.20" height="4.00" rx="0.6" fill="#2cc2cf"/><rect x="202.40" y="678.35" width="7.20" height="1.00" fill="#ffffff" opacity="0.55"/><rect x="213.50" y="676.80" width="14.50" height="4.00" rx="0.6" fill="#ef676a"/><rect x="215.50" y="678.35" width="10.50" height="1.00" fill="#ffffff" opacity="0.55"/><rect x="229.90" y="676.80" width="21.30" height="4.00" rx="0.6" fill="#5cc636"/><rect x="231.90" y="678.35" width="17.30" height="1.00" fill="#ffffff" opacity="0.55"/><rect x="78.20" y="682.80" width="22.70" height="4.10" rx="0.6" fill="#5bc534"/><rect x="79.80" y="684.35" width="19.50" height="1.00" fill="#ffffff" opacity="0.55"/><rect x="103.20" y="682.80" width="8.60" height="4.10" rx="0.6" fill="#5bc534"/><rect x="104.80" y="684.35" width="5.40" height="1.00" fill="#ffffff" opacity="0.55"/><rect x="113.60" y="682.80" width="10.30" height="4.10" rx="0.6" fill="#5bc534"/><rect x="115.20" y="684.35" width="7.10" height="1.00" fill="#ffffff" opacity="0.55"/><rect x="126.10" y="682.80" width="8.40" height="4.10" rx="0.6" fill="#5bc534"/><rect x="127.70" y="684.35" width="5.20" height="1.00" fill="#ffffff" opacity="0.55"/><rect x="136.80" y="682.80" width="15.50" height="4.10" rx="0.6" fill="#f4a52e"/><rect x="138.40" y="684.35" width="12.30" height="1.00" fill="#ffffff" opacity="0.55"/><rect x="77.60" y="689.40" width="201.20" height="6.60" fill="#1c3c49"/><circle cx="80.4" cy="692.8" r="1.1" fill="none" stroke="#8fa2ad" stroke-width="0.4"/><rect x="86.40" y="692.20" width="3.60" height="1.30" fill="#e3ecef" opacity="0.9"/><rect x="92.60" y="692.20" width="4.40" height="1.30" fill="#e3ecef" opacity="0.9"/><rect x="102.00" y="692.20" width="9.80" height="1.30" fill="#e3ecef" opacity="0.9"/><rect x="119.60" y="692.20" width="9.60" height="1.30" fill="#e3ecef" opacity="0.9"/><rect x="141.60" y="692.20" width="7.40" height="1.30" fill="#e3ecef" opacity="0.9"/><rect x="161.20" y="692.20" width="7.40" height="1.30" fill="#e3ecef" opacity="0.9"/><rect x="172.40" y="692.20" width="7.40" height="1.30" fill="#e3ecef" opacity="0.9"/><rect x="184.00" y="692.20" width="7.40" height="1.30" fill="#e3ecef" opacity="0.9"/><rect x="195.80" y="692.20" width="7.40" height="1.30" fill="#e3ecef" opacity="0.9"/><rect x="210.20" y="692.20" width="7.40" height="1.30" fill="#e3ecef" opacity="0.9"/><rect x="226.00" y="692.20" width="13.00" height="1.30" fill="#e3ecef" opacity="0.9"/><rect x="244.00" y="692.20" width="1.00" height="1.30" fill="#e3ecef" opacity="0.9"/><rect x="262.40" y="692.20" width="4.20" height="1.30" fill="#e3ecef" opacity="0.9"/><circle cx="80.4" cy="700.1" r="1.1" fill="none" stroke="#8fa2ad" stroke-width="0.4"/><rect x="88.00" y="699.60" width="0.80" height="1.20" fill="#c9d0d8"/><rect x="100.20" y="699.50" width="15.00" height="1.20" fill="#d5dbe2"/><rect x="121.60" y="699.50" width="6.00" height="1.20" fill="#2fb4c4"/><rect x="142.40" y="699.50" width="6.40" height="1.20" fill="#d5dbe2"/><rect x="184.60" y="698.40" width="5.60" height="3.20" rx="0.8" fill="none" stroke="#9aa3b0" stroke-width="0.4"/><rect x="186.20" y="699.50" width="2.40" height="1.00" fill="#d5dbe2"/><rect x="196.00" y="698.40" width="6.20" height="3.20" rx="0.8" fill="none" stroke="#3e9a3a" stroke-width="0.5"/><rect x="197.60" y="699.50" width="3.00" height="1.00" fill="#5cc636"/><rect x="228.00" y="698.40" width="9.60" height="3.20" rx="0.8" fill="none" stroke="#9aa3b0" stroke-width="0.4"/><rect x="229.80" y="699.50" width="6.00" height="1.00" fill="#d5dbe2"/><rect x="249.60" y="699.60" width="3.40" height="1.10" fill="#2fa8c0"/><rect x="256.00" y="699.60" width="3.40" height="1.10" fill="#2fa8c0"/><rect x="263.00" y="699.60" width="5.60" height="1.10" fill="#2fa8c0"/><rect x="272.00" y="699.60" width="6.00" height="1.10" fill="#2fa8c0"/><path d="M244.6 696v72" stroke="#222c40" stroke-width="0.5"/><rect x="78.20" y="772.00" width="174.00" height="0.90" fill="#2a5b6b"/><rect x="252.00" y="772.00" width="26.80" height="0.90" fill="#20384a"/><rect x="240.40" y="778.40" width="4.60" height="1.40" fill="#b9c0ca"/><rect x="247.20" y="778.40" width="11.60" height="1.40" fill="#d9dde3"/><rect x="261.00" y="778.40" width="1.00" height="1.40" fill="#8a93a3"/><rect x="264.60" y="778.40" width="3.40" height="1.40" fill="#8a93a3"/><rect x="270.00" y="778.40" width="1.00" height="1.40" fill="#8a93a3"/><rect x="273.20" y="778.40" width="5.00" height="1.40" fill="#c4cad3"/></g>
<g id="phone"><defs>
<linearGradient id="pbs" gradientUnits="userSpaceOnUse" x1="38.5" y1="1134.3" x2="285.5" y2="1174.94">
<stop offset="0" stop-color="#2bb5fd" stop-opacity="0.06"/><stop offset="0.4" stop-color="#2bb5fd" stop-opacity="0.32"/><stop offset="0.75" stop-color="#2bb5fd" stop-opacity="0.85"/><stop offset="1" stop-color="#2bb5fd" stop-opacity="1"/></linearGradient>
<linearGradient id="pbf" gradientUnits="userSpaceOnUse" x1="87.9" y1="1134.3" x2="285.5" y2="1185.1000000000001">
<stop offset="0" stop-color="#ffffff"/><stop offset="0.45" stop-color="#f0f9ff"/><stop offset="1" stop-color="#cdebfd"/></linearGradient>
<linearGradient id="pbl" gradientUnits="userSpaceOnUse" x1="38.5" y1="0" x2="285.5" y2="0">
<stop offset="0" stop-color="#cbeafd" stop-opacity="0.3"/><stop offset="0.5" stop-color="#cbeafd" stop-opacity="0.8"/><stop offset="1" stop-color="#cbeafd" stop-opacity="1"/></linearGradient>
</defs><ellipse cx="162" cy="1168.2" rx="123.5" ry="25.9" fill="url(#pbl)"/><ellipse cx="162" cy="1159.7" rx="122.9" ry="24.799999999999997" fill="url(#pbf)" stroke="url(#pbs)" stroke-width="1.4"/><rect x="109.60" y="944.40" width="106.50" height="219.00" rx="13" fill="#151516"/><rect x="112.70" y="947.50" width="100.30" height="212.80" rx="10.2" fill="#ffffff"/><path d="M117.9 958.6L116.2 960.6L117.9 962.6" fill="none" stroke="#222" stroke-width="0.7"/><text x="123" y="962.2" font-size="4.2" font-weight="bold" fill="#1c1c1c" textLength="17" lengthAdjust="spacingAndGlyphs">远程控制</text><rect x="187.60" y="956.80" width="23.40" height="7.40" rx="3.7" fill="#ffffff" stroke="#ececec" stroke-width="0.5"/><circle cx="191.4" cy="960.5" r="0.45" fill="#222"/><circle cx="193.0" cy="960.5" r="0.75" fill="#222"/><circle cx="194.6" cy="960.5" r="0.45" fill="#222"/><circle cx="205.4" cy="960.5" r="1.9" fill="none" stroke="#222" stroke-width="0.8"/><circle cx="205.4" cy="960.5" r="0.6" fill="#222"/><path d="M199.4 958v5" stroke="#ececec" stroke-width="0.4"/><path d="M115 968.3H211" stroke="#eeeeee" stroke-width="0.5"/><text x="116" y="977.3" font-size="4.2" font-weight="bold" fill="#1a1a1a" textLength="18.5" lengthAdjust="spacingAndGlyphs">设备名称:</text><text x="209.4" y="977.25" font-size="4.3" fill="#7c7c7c" text-anchor="end">40031</text><path d="M115 983.10H211" stroke="#f0f0f0" stroke-width="0.5"/><text x="116" y="992" font-size="4.2" font-weight="bold" fill="#1a1a1a" textLength="18.5" lengthAdjust="spacingAndGlyphs">设备类型:</text><text x="209.4" y="992" font-size="4.3" fill="#7c7c7c" text-anchor="end">AB电表</text><path d="M115 997.83H211" stroke="#f0f0f0" stroke-width="0.5"/><text x="116" y="1006.8" font-size="4.2" font-weight="bold" fill="#1a1a1a" textLength="18.5" lengthAdjust="spacingAndGlyphs">用户账号:</text><text x="209.4" y="1006.7" font-size="4.3" fill="#7c7c7c" text-anchor="end">3组AB</text><path d="M115 1012.56H211" stroke="#f0f0f0" stroke-width="0.5"/><text x="116" y="1021.5" font-size="4.2" font-weight="bold" fill="#1a1a1a" textLength="18.5" lengthAdjust="spacingAndGlyphs">用户表号:</text><text x="209.4" y="1021.44" font-size="4.3" fill="#7c7c7c" text-anchor="end" textLength="29.7" lengthAdjust="spacingAndGlyphs">202110040031</text><path d="M115 1027.29H211" stroke="#f0f0f0" stroke-width="0.5"/><text x="116.2" y="1036.2" font-size="4.2" font-weight="bold" fill="#1a1a1a" textLength="31.3" lengthAdjust="spacingAndGlyphs">当前拉合闸状态:</text><text x="209.4" y="1036.2" font-size="4.2" font-weight="bold" fill="#3ccf4e" text-anchor="end">合闸</text><path d="M115 1042.02H211" stroke="#f0f0f0" stroke-width="0.5"/><text x="116" y="1050.95" font-size="4.2" font-weight="bold" fill="#1a1a1a" textLength="31.5" lengthAdjust="spacingAndGlyphs">上一次拉闸时间:</text><text x="209.4" y="1051" font-size="4.3" fill="#7c7c7c" text-anchor="end">-</text><path d="M115 1056.75H211" stroke="#f0f0f0" stroke-width="0.5"/><text x="116" y="1065.7" font-size="4.2" font-weight="bold" fill="#1a1a1a" textLength="31.5" lengthAdjust="spacingAndGlyphs">上一次合闸时间:</text><text x="209.4" y="1065.7" font-size="4.3" fill="#7c7c7c" text-anchor="end">-</text><path d="M115 1071.48H211" stroke="#f0f0f0" stroke-width="0.5"/><rect x="116.80" y="1078.50" width="44.20" height="9.90" rx="4.95" fill="#3d7cf2"/><text x="138.9" y="1084.9" font-size="3.8" font-weight="bold" fill="#ffffff" text-anchor="middle">合闸</text><rect x="164.10" y="1078.50" width="44.20" height="9.90" rx="4.95" fill="#3d7cf2"/><text x="186.2" y="1084.9" font-size="3.8" font-weight="bold" fill="#ffffff" text-anchor="middle">拉闸</text></g>
<g id="text">
<text x="95" y="177.5" font-size="80" font-weight="900" fill="#000" textLength="555" lengthAdjust="spacingAndGlyphs">远程控制拉合闸</text>
<text x="137" y="273.5" font-size="80" font-weight="900" fill="#000" textLength="476" lengthAdjust="spacingAndGlyphs">可定时通断电</text>
<text x="146.3" y="381.5" font-size="30" font-weight="bold" fill="#1ee59b" textLength="141.5" lengthAdjust="spacingAndGlyphs">房东(物业)</text>
<text x="480" y="382" font-size="30" font-weight="bold" fill="#2bb5fd" textLength="141.5" lengthAdjust="spacingAndGlyphs">租客(业主)</text>
<text x="68" y="428.2" font-size="30" font-weight="500" fill="#0a0a0a" textLength="294.5" lengthAdjust="spacingAndGlyphs">可通过电脑或手机APP</text>
<text x="66" y="464.4" font-size="30" font-weight="500" fill="#0a0a0a" textLength="300" lengthAdjust="spacingAndGlyphs">微信批量拉合闸电表。</text>
<text x="433.3" y="428.2" font-size="30" font-weight="500" fill="#0a0a0a" textLength="234" lengthAdjust="spacingAndGlyphs">可通过APP或微信</text>
<text x="461.3" y="464.4" font-size="30" font-weight="500" fill="#0a0a0a" textLength="180" lengthAdjust="spacingAndGlyphs">通断电电表。</text>
<text x="82" y="498.6" font-size="20.1" fill="#969696" textLength="269.5" lengthAdjust="spacingAndGlyphs">*房东拉闸情况下租客不得合闸</text>
</g>
</svg>
<div class="lbl" style="left:94px;top:107px;width:560px;font-size:80px;line-height:80px">远程控制拉合闸</div>
<div class="lbl" style="left:134px;top:203px;width:480px;font-size:80px;line-height:80px">可定时通断电</div>
<div class="lbl" style="left:146px;top:355px;width:144px;font-size:30px;line-height:30px">房东(物业)</div>
<div class="lbl" style="left:480px;top:355px;width:144px;font-size:30px;line-height:30px">租客(业主)</div>
<div class="lbl" style="left:67px;top:402px;width:297px;font-size:29.3px;line-height:29.3px">可通过电脑或手机APP</div>
<div class="lbl" style="left:66px;top:439px;width:299px;font-size:29.3px;line-height:29.3px">微信批量拉合闸电表。</div>
<div class="lbl" style="left:432px;top:402px;width:236px;font-size:29.3px;line-height:29.3px">可通过APP或微信</div>
<div class="lbl" style="left:461px;top:439px;width:180px;font-size:29.3px;line-height:29.3px">通断电电表。</div>
<div class="lbl" style="left:81px;top:481px;width:271px;font-size:20.1px;line-height:20.1px">*房东拉闸情况下租客不得合闸</div>
<div class="lbl" style="left:66px;top:654px;width:56px;font-size:5px;line-height:6px">智慧能源公共服务平台</div>
<div class="lbl" style="left:53px;top:665px;width:18px;font-size:5px;line-height:6px">Energy</div>
<div class="lbl" style="left:123px;top:958px;width:18px;font-size:4px;line-height:5px">远程控制</div>
<div class="lbl" style="left:116px;top:973px;width:34px;font-size:4px;line-height:5px">设备名称:</div>
<div class="lbl" style="left:178px;top:973px;width:32px;font-size:4px;line-height:5px">40031</div>
<div class="lbl" style="left:116px;top:988px;width:34px;font-size:4px;line-height:5px">设备类型:</div>
<div class="lbl" style="left:178px;top:988px;width:32px;font-size:4px;line-height:5px">AB电表</div>
<div class="lbl" style="left:116px;top:1002px;width:34px;font-size:4px;line-height:5px">用户账号:</div>
<div class="lbl" style="left:178px;top:1002px;width:32px;font-size:4px;line-height:5px">3组AB</div>
<div class="lbl" style="left:116px;top:1017px;width:34px;font-size:4px;line-height:5px">用户表号:</div>
<div class="lbl" style="left:178px;top:1017px;width:32px;font-size:4px;line-height:5px">202110040031</div>
<div class="lbl" style="left:116px;top:1032px;width:34px;font-size:4px;line-height:5px">当前拉合闸状态:</div>
<div class="lbl" style="left:178px;top:1032px;width:32px;font-size:4px;line-height:5px">合闸</div>
<div class="lbl" style="left:116px;top:1047px;width:34px;font-size:4px;line-height:5px">上一次拉闸时间:</div>
<div class="lbl" style="left:178px;top:1047px;width:32px;font-size:4px;line-height:5px">-</div>
<div class="lbl" style="left:116px;top:1061px;width:34px;font-size:4px;line-height:5px">上一次合闸时间:</div>
<div class="lbl" style="left:178px;top:1061px;width:32px;font-size:4px;line-height:5px">-</div>
<div class="lbl" style="left:134px;top:1081px;width:10px;font-size:4px;line-height:5px">合闸</div>
<div class="lbl" style="left:181px;top:1081px;width:10px;font-size:4px;line-height:5px">拉闸</div>
<div class="lbl" style="left:555px;top:685px;width:62px;font-size:3px;line-height:4px">GB/T18460.3-2001 DL/T645-2007</div>
<div class="lbl" style="left:556px;top:692px;width:61px;font-size:4px;line-height:5px">单相电子式预付费电能表</div>
<div class="lbl" style="left:585px;top:700px;width:34px;font-size:3px;line-height:4px">剩余 金额 159.76 元</div>
<div class="lbl" style="left:550px;top:734px;width:42px;font-size:2px;line-height:3px">脉冲 欠费 拉闸 跳闸</div>
<div class="lbl" style="left:560px;top:764px;width:53px;font-size:4px;line-height:5px">DDSY6111-AB-IOT 220V 50Hz</div>
<div class="lbl" style="left:562px;top:770px;width:45px;font-size:3px;line-height:4px">5(60)A 1600imp/kWh</div>
<div class="lbl" style="left:562px;top:781px;width:44px;font-size:3px;line-height:4px">表号: 202108222121</div>
<div class="lbl" style="left:562px;top:786px;width:53px;font-size:3px;line-height:4px">卡号: 8986112021208801075</div>
<div class="lbl" style="left:541px;top:792px;width:78px;font-size:3px;line-height:4px">Zhsun 智电 浙江智电仪表仪表有限公司</div>
<div class="lbl" style="left:555px;top:994px;width:62px;font-size:3px;line-height:4px">GB/T18460.3-2001 DL/T645-2007</div>
<div class="lbl" style="left:556px;top:1001px;width:61px;font-size:4px;line-height:5px">单相电子式预付费电能表</div>
<div class="lbl" style="left:585px;top:1009px;width:34px;font-size:3px;line-height:4px">剩余 金额 159.76 元</div>
<div class="lbl" style="left:550px;top:1043px;width:42px;font-size:2px;line-height:3px">脉冲 欠费 拉闸 跳闸</div>
<div class="lbl" style="left:560px;top:1073px;width:53px;font-size:4px;line-height:5px">DDSY6111-AB-IOT 220V 50Hz</div>
<div class="lbl" style="left:562px;top:1079px;width:45px;font-size:3px;line-height:4px">5(60)A 1600imp/kWh</div>
<div class="lbl" style="left:562px;top:1090px;width:44px;font-size:3px;line-height:4px">表号: 202108222121</div>
<div class="lbl" style="left:562px;top:1095px;width:53px;font-size:3px;line-height:4px">卡号: 8986112021208801075</div>
<div class="lbl" style="left:541px;top:1101px;width:78px;font-size:3px;line-height:4px">Zhsun 智电 浙江智电仪表仪表有限公司</div>
<div id="foot"></div>
</body>
</html>
